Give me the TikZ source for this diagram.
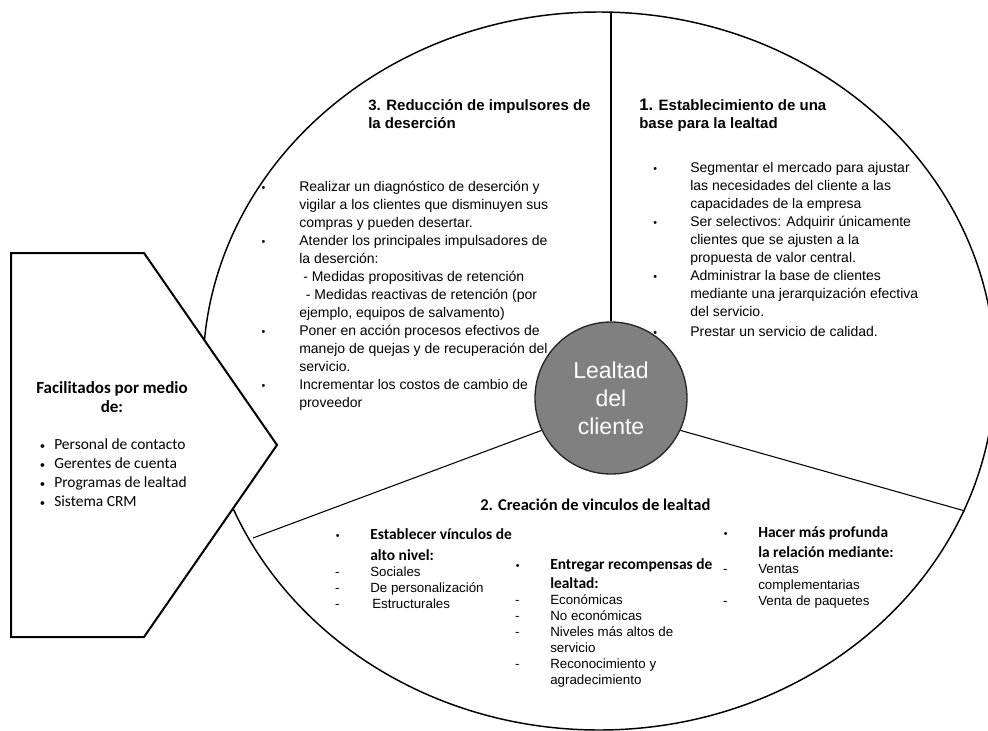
\documentclass[tikz,border=0pt]{standalone}
\usepackage{fontspec}
\setmainfont{Liberation Sans}
\newfontfamily\calib{Carlito}
\usepackage{tikz}
\usetikzlibrary{positioning,calc}

% bullet and dash hanging to the left of a line
\newcommand{\bul}[1]{\llap{{\fontsize{8}{8}\selectfont\textbullet}\hspace{#1}}}
\newcommand{\dsh}[1]{\llap{-\hspace{#1}}}
\newcommand{\calbold}{\calib\bfseries\fontsize{11.6}{14}\selectfont}

\begin{document}
\begin{tikzpicture}[x=0.75pt, y=-0.75pt,
    rim/.style={line width=1.1pt},
    spoke/.style={line width=0.8pt},
    fence/.style={line width=1.5pt, fill=white},
    core/.style={circle, draw=black!85, line width=1pt, fill=black!50, minimum size=114pt, inner sep=0pt, text=white, align=center, font=\fontsize{17.25}{21}\selectfont},
    head/.style={anchor=north west, inner sep=0pt, align=left, font=\bfseries\fontsize{11.25}{13.5}\selectfont},
    body/.style={anchor=north west, inner sep=0pt, align=left, font=\fontsize{10.5}{13.5}\selectfont},
    small/.style={anchor=north west, inner sep=0pt, align=left, font=\fontsize{10}{12}\selectfont}]

    \useasboundingbox (0,0) rectangle (988,731);

    % Outer ring
    \draw[rim] (599,371) ellipse [x radius=396, y radius=359];

    % Centre
    \node[core] (core) at (611,398) {Lealtad\\del\\cliente};

    % Spokes
    \coordinate (rimN) at (611,12);
    \coordinate (rimL) at (253,538);
    \coordinate (rimR) at (965,511);
    \draw[spoke] (core.north) -- (rimN);
    \draw[spoke] (core.205) -- (rimL);
    \draw[spoke] (core.-25) -- (rimR);

    % 3. Reduction
    \node[head] (head3) at (368,99) {3. Reducción de impulsores de\\la deserción};
    \node[body] (body3) at (299,181) {\bul{25.5pt}Realizar un diagnóstico de deserción y\\
        vigilar a los clientes que disminuyen sus\\
        compras y pueden desertar.\\
        \bul{25.5pt}Atender los principales impulsadores de\\
        la deserción:\\
        \hspace{3pt}- Medidas propositivas de retención\\
        \hspace{5pt}- Medidas reactivas de retención (por\\
        ejemplo, equipos de salvamento)\\
        \bul{25.5pt}Poner en acción procesos efectivos de\\
        manejo de quejas y de recuperación del\\
        servicio.\\
        \bul{25.5pt}Incrementar los costos de cambio de\\
        proveedor};

    % 1. Base
    \node[head] (head1) at (639,99) {{\fontsize{12.5}{13.5}\selectfont 1.} Establecimiento de una\\base para la lealtad};
    \node[body] (body1) at (690,162) {\bul{24.8pt}Segmentar el mercado para ajustar\\
        las necesidades del cliente a las\\
        capacidades de la empresa\\
        \bul{24.8pt}Ser selectivos: Adquirir únicamente\\
        clientes que se ajusten a la\\
        propuesta de valor central.\\
        \bul{24.8pt}Administrar la base de clientes\\
        mediante una jerarquización efectiva\\
        del servicio.\\[1.5pt]
        \bul{24.8pt}Prestar un servicio de calidad.};

    % 2. Bonds
    \node[head, font=\calib\bfseries\fontsize{12.4}{15}\selectfont] (head2) at (480,499) {2. Creación de vinculos de lealtad};
    \node[small] (bondA) at (370,528) {\bul{23pt}{\calbold Establecer vínculos de}\\[3.75pt]
        {\calbold alto nivel:}\\
        \dsh{23pt}Sociales\\
        \dsh{23pt}De personalización\\
        \dsh{23pt}\hspace{1.5pt}Estructurales};
    \node[small] (bondB) at (550,558) {\bul{23pt}{\calbold Entregar recompensas de}\\[2.25pt]
        {\calbold lealtad:}\\
        \dsh{23pt}Económicas\\
        \dsh{23pt}No económicas\\
        \dsh{23pt}Niveles más altos de\\
        servicio\\
        \dsh{23pt}Reconocimiento y\\
        agradecimiento};
    \node[small] (bondC) at (758,526) {\bul{23pt}{\calbold Hacer más profunda}\\[3pt]
        {\calbold la relación mediante:}\\
        \dsh{23pt}Ventas\\
        complementarias\\
        \dsh{23pt}Venta de paquetes};

    % Enablers
    \draw[fence] (11,253) -- (144,253) -- (277,445) -- (144,637) -- (11,637) -- cycle;
    \node[align=center, inner sep=0pt, font=\calib\bfseries\fontsize{12.75}{14.25}\selectfont] (facil) at (112,397) {Facilitados por medio\\de:};
    \node[anchor=north west, inner sep=0pt, align=left, font=\calib\fontsize{11.6}{14.25}\selectfont] (medios) at (54,438) {\bul{6.8pt}Personal de contacto\\
        \bul{6.8pt}Gerentes de cuenta\\
        \bul{6.8pt}Programas de lealtad\\
        \bul{6.8pt}Sistema CRM};

\end{tikzpicture}
\end{document}
